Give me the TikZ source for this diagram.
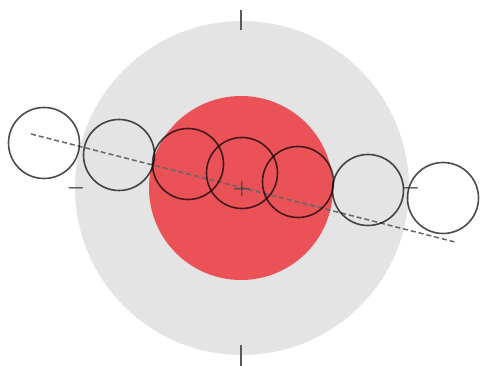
\documentclass[tikz,border=0pt]{standalone}
\usepackage{tikz}
\usetikzlibrary{positioning}
\definecolor{discgray}{RGB}{228,228,228}
\definecolor{discred}{RGB}{234,82,88}
\tikzset{
  greydisc/.style={circle,fill=discgray,minimum size=334pt,inner sep=0pt},
  reddisc/.style={circle,fill=discred,minimum size=184pt,inner sep=0pt},
  ring/.style={circle,draw=black,draw opacity=.7,line width=1.6pt,minimum size=71pt,inner sep=0pt},
  dashaxis/.style={line width=1.5pt,black!60,dash pattern=on 5pt off 3pt},
  marktick/.style={line width=1.8pt,black!65},
  sign/.style={font=\fontsize{22}{24}\selectfont\boldmath,text=black!75,inner sep=0pt}
}
\begin{document}
\begin{tikzpicture}[x=1pt,y=-1pt]
  \useasboundingbox (0,0) rectangle (482,366);
  \node[greydisc] (field) at (242,188) {};
  \node[reddisc] (core) at (241,188) {};
  \coordinate (axl) at (31,134);
  \coordinate (axr) at (455,242);
  \draw[dashaxis] (axl)--(axr);
  \foreach \x/\y [count=\i] in {44/143,119/155,188/164,242/173,298/182,368/190,443/198}
    \node[ring] (r\i) at (\x,\y) {};
  \node[sign] (minl) at (76,188) {$-$};
  \node[sign] (plus) at (242,189) {$+$};
  \node[sign] (minr) at (411,188) {$-$};
  \coordinate (tt1) at (241,10);
  \coordinate (tt2) at (241,30);
  \coordinate (tb1) at (241,345);
  \coordinate (tb2) at (241,366);
  \draw[marktick] (tt1)--(tt2);
  \draw[marktick] (tb1)--(tb2);
\end{tikzpicture}
\end{document}
